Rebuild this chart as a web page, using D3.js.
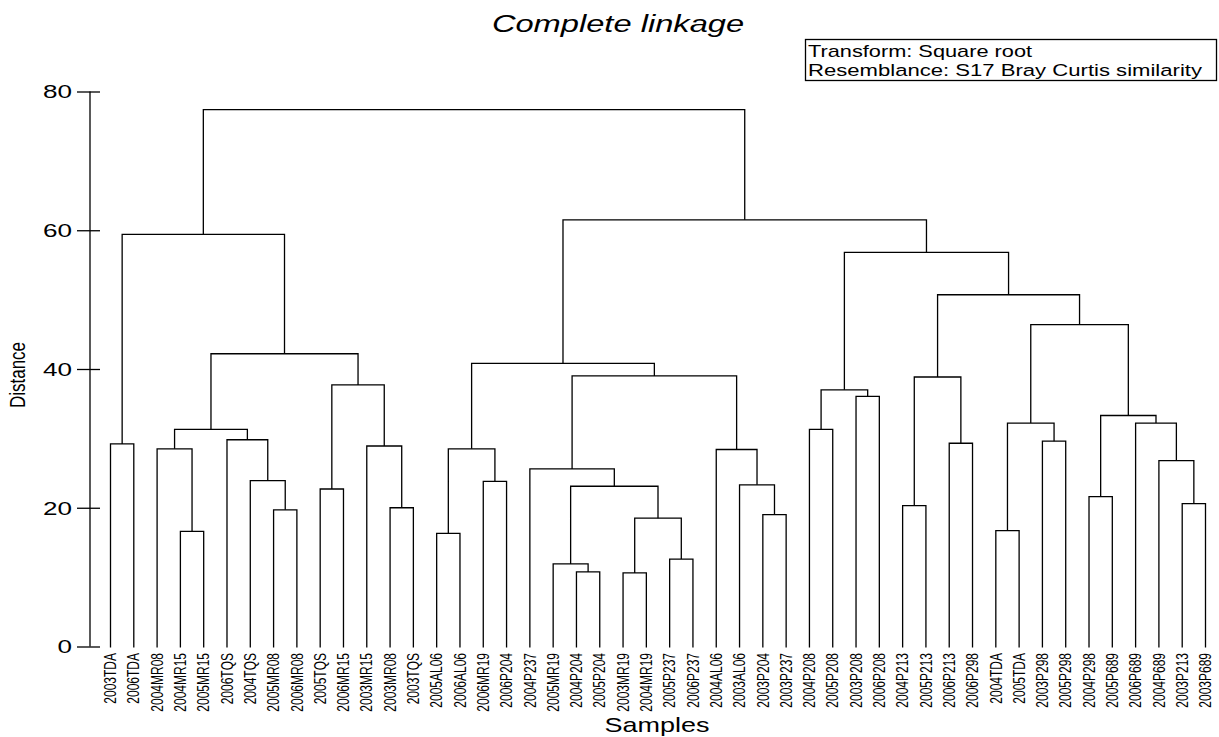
<!DOCTYPE html>
<html><head><meta charset="utf-8">
<script src="https://cdn.jsdelivr.net/npm/d3@7"></script>
<style>body{margin:0;background:#fff} svg{display:block}</style>
</head><body><svg id="c" width="1219" height="737"></svg>
<script>
// ---- data ----
const leafLabels = [
  "2003TDA","2006TDA","2004MR08","2004MR15","2005MR15","2006TQS","2004TQS","2005MR08",
  "2006MR08","2005TQS","2006MR15","2003MR15","2003MR08","2003TQS","2005AL06","2006AL06",
  "2006MR19","2006P204","2004P237","2005MR19","2004P204","2005P204","2003MR19","2004MR19",
  "2005P237","2006P237","2004AL06","2003AL06","2003P204","2003P237","2004P208","2005P208",
  "2003P208","2006P208","2004P213","2005P213","2006P213","2006P298","2004TDA","2005TDA",
  "2003P298","2005P298","2004P298","2005P689","2006P689","2004P689","2003P213","2003P689"
];
// merges: negative = leaf number (1-based), positive = earlier merge number (1-based)
const merges = [
  [-1,-2],[-4,-5],[-3,2],[-8,-9],[-7,4],[-6,5],[3,6],[-10,-11],[-13,-14],[-12,9],
  [8,10],[7,11],[1,12],[-15,-16],[-17,-18],[14,15],[-21,-22],[-20,17],[-23,-24],[-25,-26],
  [19,20],[18,21],[-19,22],[-29,-30],[-28,24],[-27,25],[23,26],[16,27],[-31,-32],[-33,-34],
  [29,30],[-35,-36],[-37,-38],[32,33],[-39,-40],[-41,-42],[35,36],[-43,-44],[-47,-48],[-46,39],
  [-45,40],[38,41],[37,42],[34,43],[31,44],[28,45],[13,46]
];
const heights = [
  29.2,16.6,28.5,19.7,23.9,29.8,31.3,22.7,20.0,28.9,
  37.7,42.2,59.4,16.3,23.8,28.5,10.75,11.9,10.6,12.6,
  18.5,23.1,25.6,19.0,23.3,28.4,39.0,40.8,31.3,36.05,
  37.0,20.3,29.3,38.85,16.7,29.6,32.2,21.6,20.6,26.8,
  32.2,33.3,46.4,50.7,56.8,61.5,77.4
];
const yTicks = [0,20,40,60,80];
const titleText = "Complete linkage";
const legendLines = ["Transform: Square root","Resemblance: S17 Bray Curtis similarity"];
const xTitle = "Samples", yTitle = "Distance";

// ---- chart ----
const svg = d3.select('#c');
const font = "'Liberation Sans', Arial, sans-serif";
const x = d3.scalePoint().domain(leafLabels).range([110.5, 1205.5]);
const y = d3.scaleLinear().domain([0, 80]).range([646.5, 91.5]);

const nodes = [];
const ref = r => r < 0 ? {name: leafLabels[-r - 1], height: 0} : nodes[r - 1];
merges.forEach((m, i) => nodes.push({height: heights[i], children: [ref(m[0]), ref(m[1])]}));
const root = d3.hierarchy(nodes[nodes.length - 1]);
root.eachAfter(n => {
  n.px = n.children ? d3.mean(n.children, c => c.px) : x(n.data.name);
  n.py = n.children ? y(n.data.height) : y(0) + 1;
});

svg.append('g').attr('fill', 'none').attr('stroke', '#000').attr('stroke-width', 1.3)
  .selectAll('path').data(root.descendants().filter(d => d.children)).join('path')
  .attr('d', n => {
    const [a, b] = n.children;
    return `M${a.px},${a.py}V${n.py}H${b.px}V${b.py}`;
  });

// y axis
const ax = svg.append('g').attr('transform', 'translate(100,0)')
  .call(d3.axisLeft(y).tickValues(yTicks).tickSize(23).tickSizeOuter(0).tickFormat(d3.format('d')));
ax.select('.domain').remove();
ax.selectAll('.tick line').attr('stroke', '#000').attr('stroke-width', 1.3);
ax.selectAll('.tick text').attr('x', null).attr('dy', '0.36em')
  .attr('transform', 'translate(-28,0) scale(1.45,1)')
  .attr('font-family', font).attr('font-size', 18).attr('fill', '#000').attr('text-anchor', 'end');
svg.append('line').attr('x1', 90).attr('x2', 90).attr('y1', y(80)).attr('y2', y(0))
  .attr('stroke', '#000').attr('stroke-width', 1.3);

// leaf labels
svg.append('g').selectAll('text').data(leafLabels).join('text')
  .attr('transform', d => `translate(${x(d)},653) scale(1.35,1) rotate(-90)`)
  .attr('dy', '0.35em').attr('text-anchor', 'end')
  .attr('font-family', font).attr('font-size', 12).attr('fill', '#000').text(d => d);

// titles
svg.append('text').attr('transform', 'translate(618,32) scale(1.42,1)')
  .attr('text-anchor', 'middle').attr('font-family', font).attr('font-size', 23)
  .attr('font-style', 'italic').text(titleText);
svg.append('text').attr('transform', 'translate(657,732) scale(1.35,1)')
  .attr('text-anchor', 'middle').attr('font-family', font).attr('font-size', 20).text(xTitle);
svg.append('text').attr('transform', 'translate(25,375) scale(1.25,1) rotate(-90)')
  .attr('text-anchor', 'middle').attr('font-family', font).attr('font-size', 17).text(yTitle);

// legend box
svg.append('rect').attr('x', 805.5).attr('y', 39.5).attr('width', 411).attr('height', 41)
  .attr('fill', 'none').attr('stroke', '#000').attr('stroke-width', 1.3);
const lg = svg.append('g').attr('font-family', font).attr('font-size', 17);
lg.append('text').attr('transform', 'translate(808,56.5) scale(1.28,1)').text(legendLines[0]);
lg.append('text').attr('transform', 'translate(808,75.5) scale(1.3,1)').text(legendLines[1]);
</script></body></html>
